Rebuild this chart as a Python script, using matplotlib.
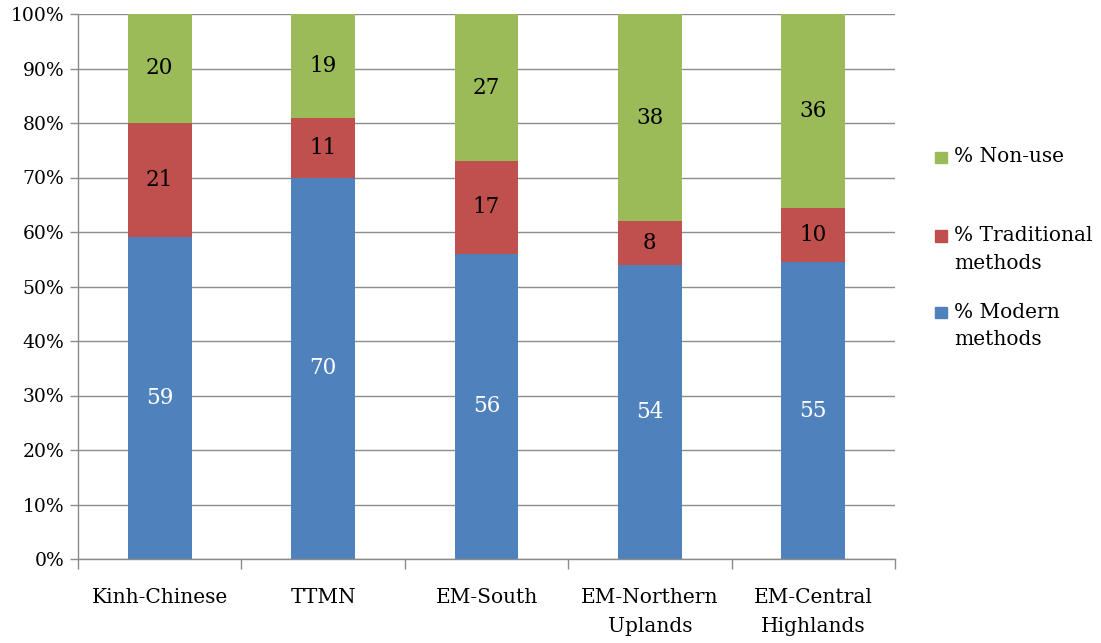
import numpy as np
import matplotlib.pyplot as plt
from matplotlib.patches import Rectangle

# contraceptive use by group, raw percentages
groups = ['Kinh-Chinese', 'TTMN', 'EM-South', 'EM-Northern\nUplands', 'EM-Central\nHighlands']
modern = [59, 70, 56, 54, 55]
traditional = [21, 11, 17, 8, 10]
non_use = [20, 19, 27, 38, 36]

series = [
    ('% Modern\nmethods', modern, '#4f81bd', 'white'),
    ('% Traditional\nmethods', traditional, '#c0504d', 'black'),
    ('% Non-use', non_use, '#9bbb59', 'black'),
]

plt.rcParams['font.family'] = ['DejaVu Serif']
W, H = 1101, 643
fig = plt.figure(figsize=(W / 100, H / 100), dpi=100)
ax = fig.add_axes([78 / W, 1 - 559 / H, (895 - 78) / W, (559 - 14) / H])

# stacked to 100%
totals = np.array(modern) + np.array(traditional) + np.array(non_use)
x = np.arange(len(groups))
bottom = np.zeros(len(groups))
for name, vals, color, tcol in series:
    share = np.array(vals) / totals * 100
    ax.bar(x, share, bottom=bottom, width=0.39, color=color, zorder=2)
    for xi, b, s, v in zip(x, bottom, share, vals):
        ax.text(xi, b + s / 2, str(v), ha='center', va='center',
                fontsize=15.5, color=tcol, zorder=3)
    bottom += share

ax.set_xlim(-0.5, len(groups) - 0.5)
ax.set_ylim(0, 100)
ax.set_yticks(np.arange(0, 101, 10))
ax.set_yticklabels([f'{v}%' for v in range(0, 101, 10)], fontsize=13.5)
ax.yaxis.grid(True, color='#8c8c8c', linewidth=1, zorder=0)

# category ticks sit between bars, labels centred under bars
ax.set_xticks(np.arange(-0.5, len(groups), 1))
ax.set_xticklabels([])
ax.set_xticks(x, minor=True)
ax.set_xticklabels(groups, minor=True, fontsize=14.5, linespacing=1.65)
ax.tick_params(axis='x', which='major', length=7, color='#8c8c8c', width=1)
ax.tick_params(axis='x', which='minor', length=0, pad=21)
ax.tick_params(axis='y', length=6, color='#8c8c8c', width=1, pad=4)

for s in ['top', 'right']:
    ax.spines[s].set_visible(False)
for s in ['left', 'bottom']:
    ax.spines[s].set_color('#8c8c8c')
    ax.spines[s].set_linewidth(1)

# legend on the right
leg_y = [157, 249.5, 326]
for (name, vals, color, tcol), yy in zip(reversed(series), leg_y):
    n_lines = name.count('\n') + 1
    top_line = yy - (n_lines - 1) * 13.5
    fig.add_artist(Rectangle((935 / W, 1 - (top_line + 5.5) / H), 12 / W, 11 / H,
                             transform=fig.transFigure, color=color))
    fig.text(954 / W, 1 - yy / H, name, ha='left', va='center',
             fontsize=14.5, linespacing=1.55)

fig.savefig('out.png', dpi=100)
